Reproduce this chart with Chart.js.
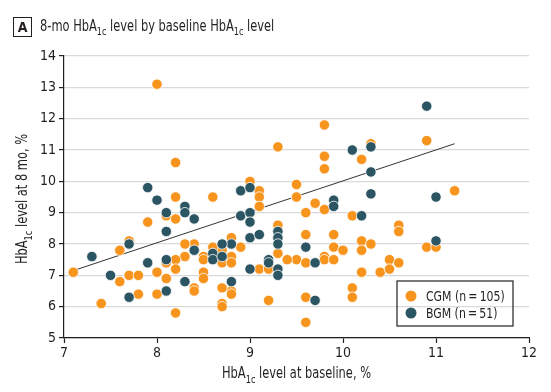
<!DOCTYPE html>
<html>
<head>
<meta charset="utf-8">
<script src="https://cdn.jsdelivr.net/npm/chart.js@4/dist/chart.umd.min.js"></script>
<style>
  body { margin: 0; background: #fff; }
  #wrap { position: relative; width: 551px; height: 392px; }
  #title { position: absolute; left: 40px; top: 17px; font: 15.5px 'DejaVu Sans Condensed', 'Liberation Sans Narrow', sans-serif; color: #231f20; white-space: nowrap; transform: scaleX(0.82); transform-origin: left top; }
  #title sub { font-size: 11px; vertical-align: -4px; line-height: 0; }
  #panel { position: absolute; left: 13px; top: 17px; width: 17px; height: 18px; border: 1.5px solid #231f20; font: bold 14px 'DejaVu Sans Condensed', 'Liberation Sans Narrow', sans-serif; text-align: center; line-height: 18px; color: #231f20; }
</style>
</head>
<body>
<div id="wrap">
  <canvas id="scatterChart" width="551" height="392"></canvas>
  <div id="panel">A</div>
  <div id="title">8-mo HbA<sub>1c</sub> level by baseline HbA<sub>1c</sub> level</div>
</div>
<script>
// Values (HbA1c %, baseline vs 8 months)
const cgmBaseline = [8.0, 8.2, 9.3, 9.8, 10.9, 10.3, 9.8, 10.2, 9.8,
  8.2, 8.6, 9.0, 9.1, 9.1, 9.1, 9.5, 9.5, 9.7, 9.6, 9.8, 11.2, 10.1, 10.6, 10.6, 9.6, 9.9, 9.9, 10.0, 10.2, 10.2,
  10.3, 10.9, 11.0, 9.5, 9.6, 9.8, 9.8, 9.9, 10.2, 10.4, 10.5, 10.5, 10.6, 10.1, 10.1, 9.6, 9.6,
  8.1, 8.2, 7.9, 9.3, 9.3, 9.4, 9.1, 9.2, 9.2, 8.9, 8.8, 8.7, 8.6, 8.7, 8.8, 8.8, 8.5, 8.5, 8.5, 8.5,
  8.4, 8.3, 8.3, 8.2, 8.2, 8.1, 8.1, 8.0, 8.0, 7.7, 7.6, 7.1, 7.6, 7.7, 7.8, 7.8, 7.4, 8.2, 8.4, 8.4,
  8.8, 8.8, 8.7, 8.7, 8.7];
const cgmMonth8 = [13.1, 10.6, 11.1, 11.8, 11.3, 11.2, 10.8, 10.7, 10.4,
  9.5, 9.5, 10.0, 9.7, 9.5, 9.2, 9.9, 9.5, 9.3, 9.0, 9.1, 9.7, 8.9, 8.6, 8.4, 8.3, 8.3, 7.9, 7.8, 8.1, 7.8,
  8.0, 7.9, 7.9, 7.5, 7.4, 7.6, 7.5, 7.5, 7.1, 7.1, 7.5, 7.2, 7.4, 6.6, 6.3, 6.3, 5.5,
  8.9, 8.8, 8.7, 8.6, 7.7, 7.5, 7.2, 7.2, 6.2, 7.9, 8.2, 7.8, 7.9, 7.4, 7.6, 7.4, 7.6, 7.5, 7.1, 6.9,
  8.0, 8.0, 7.6, 7.5, 7.2, 7.4, 6.9, 7.1, 6.4, 8.1, 7.8, 7.1, 6.8, 7.0, 7.0, 6.4, 6.1, 5.8, 6.6, 6.5,
  6.5, 6.4, 6.6, 6.1, 6.0];

const bgmBaseline = [7.9, 8.0, 8.9, 9.0, 9.9, 9.9, 10.3, 11.0, 10.2, 9.6, 11.0, 9.7, 9.7, 10.9, 10.3, 10.1, 10.3,
  8.1, 8.3, 8.3, 8.4, 8.1, 8.9, 9.0, 9.0, 9.3, 9.3, 9.3, 9.0, 9.1, 9.3, 9.3, 9.2, 9.2, 9.0,
  8.8, 8.7, 8.6, 8.6, 8.7, 8.4, 8.1, 8.1, 7.9, 7.7, 7.3, 7.5, 7.7, 8.3, 8.8];
const bgmMonth8 = [9.8, 9.4, 9.7, 9.8, 9.4, 9.2, 9.6, 9.5, 8.9, 7.9, 8.1, 7.4, 6.2, 12.4, 11.1, 11.0, 10.3,
  9.0, 9.2, 9.0, 8.8, 8.4, 8.9, 9.0, 8.7, 8.4, 8.2, 8.0, 8.2, 8.3, 7.2, 7.0, 7.5, 7.4, 7.2,
  8.0, 8.0, 7.7, 7.5, 7.6, 7.8, 7.5, 6.5, 7.4, 8.0, 7.6, 7.0, 6.3, 6.8, 6.8];

// fitted line end points as drawn
const fitX = [7.1, 11.2];
const fitY = [7.15, 11.2];

const xTicks = [7, 8, 9, 10, 11, 12];
const yTicks = [5, 6, 7, 8, 9, 10, 11, 12, 13, 14];

const FONT = "'DejaVu Sans Condensed', 'Liberation Sans Narrow', sans-serif";
const INK = '#231f20';
const ORANGE = '#f7941d';
const TEAL = '#2c5564';
const SQUEEZE = 0.82; // the original uses a condensed face

function toPoints(xs, ys) {
  return xs.map((x, i) => ({ x: x, y: ys[i] }));
}

// draw text where some parts are subscripts, e.g. HbA + 1c
function drawSubText(ctx, parts, x, y, size, align) {
  let total = 0;
  parts.forEach(p => {
    ctx.font = (p[1] ? size * 0.72 : size) + 'px ' + FONT;
    total += ctx.measureText(p[0]).width;
  });
  ctx.save();
  ctx.translate(x, y);
  ctx.scale(SQUEEZE, 1);
  let cx = align === 'left' ? 0 : -total / 2;
  ctx.textAlign = 'left';
  ctx.textBaseline = 'alphabetic';
  parts.forEach(p => {
    ctx.font = (p[1] ? size * 0.72 : size) + 'px ' + FONT;
    ctx.fillText(p[0], cx, p[1] ? size * 0.3 : 0);
    cx += ctx.measureText(p[0]).width;
  });
  ctx.restore();
}

const extrasPlugin = {
  id: 'extras',
  afterDraw(chart) {
    const ctx = chart.ctx;
    const area = chart.chartArea;
    ctx.save();
    ctx.fillStyle = INK;

    // x axis title
    drawSubText(ctx, [['HbA', false], ['1c', true], [' level at baseline, %', false]],
      (area.left + area.right) / 2, 378, 15.5);

    // y axis title (rotated)
    ctx.save();
    ctx.translate(27, (area.top + area.bottom) / 2 + 2);
    ctx.rotate(-Math.PI / 2);
    drawSubText(ctx, [['HbA', false], ['1c', true], [' level at 8 mo, %', false]], 0, 0, 15.5);
    ctx.restore();

    // legend box inside the plot, CGM listed first
    const boxR = area.right - 16, boxB = area.bottom - 12;
    const boxW = 116, boxH = 45;
    ctx.strokeStyle = INK;
    ctx.lineWidth = 1.2;
    ctx.strokeRect(boxR - boxW, boxB - boxH, boxW, boxH);
    const items = chart.data.datasets.filter(d => d.type !== 'line').slice().reverse();
    items.forEach((d, i) => {
      const cy = boxB - boxH + 15 + i * 17;
      ctx.beginPath();
      ctx.arc(boxR - boxW + 14, cy, 5.5, 0, Math.PI * 2);
      ctx.fillStyle = d.backgroundColor;
      ctx.fill();
      ctx.fillStyle = INK;
      drawSubText(ctx, [[d.label, false]], boxR - boxW + 29, cy + 5, 14.8, 'left');
    });
    ctx.restore();
  }
};

const chartCtx = document.getElementById('scatterChart').getContext('2d');
const scatterChart = new Chart(chartCtx, {
  type: 'scatter',
  data: {
    datasets: [
      {
        label: 'BGM (n\u2009=\u200951)',
        data: toPoints(bgmBaseline, bgmMonth8),
        backgroundColor: TEAL,
        borderColor: '#ffffff',
        borderWidth: 0.8,
        pointRadius: 5.2,
        order: 0
      },
      {
        label: 'CGM (n\u2009=\u2009105)',
        data: toPoints(cgmBaseline, cgmMonth8),
        backgroundColor: ORANGE,
        borderColor: '#ffffff',
        borderWidth: 0.8,
        pointRadius: 5.2,
        order: 1
      },
      {
        type: 'line',
        label: 'fit',
        data: toPoints(fitX, fitY),
        borderColor: '#333333',
        borderWidth: 1,
        pointRadius: 0,
        fill: false,
        order: 2
      }
    ]
  },
  options: {
    responsive: false,
    animation: false,
    layout: { padding: { left: 0, right: 22, top: 56, bottom: 0 } },
    plugins: {
      legend: { display: false },
      tooltip: { enabled: false }
    },
    scales: {
      x: {
        type: 'linear',
        min: 7,
        max: 12,
        afterFit: function(scale) { scale.height = 54; },
        afterBuildTicks: function(scale) { scale.ticks = xTicks.map(v => ({ value: v })); },
        grid: { drawOnChartArea: false, tickLength: 5, tickColor: INK, tickWidth: 1.2 },
        border: { color: INK, width: 1.2 },
        ticks: { font: { family: FONT, size: 14 }, color: INK, padding: 2, maxRotation: 0 }
      },
      y: {
        type: 'linear',
        min: 5,
        max: 14,
        afterFit: function(scale) { scale.width = 64; },
        afterBuildTicks: function(scale) { scale.ticks = yTicks.map(v => ({ value: v })); },
        grid: { color: '#d9d9d9', lineWidth: 1.2, tickLength: 5, tickColor: INK, tickWidth: 1.2 },
        border: { color: INK, width: 1.2 },
        ticks: { font: { family: FONT, size: 14 }, color: INK, padding: 3 }
      }
    }
  },
  plugins: [extrasPlugin]
});
</script>
</body>
</html>
